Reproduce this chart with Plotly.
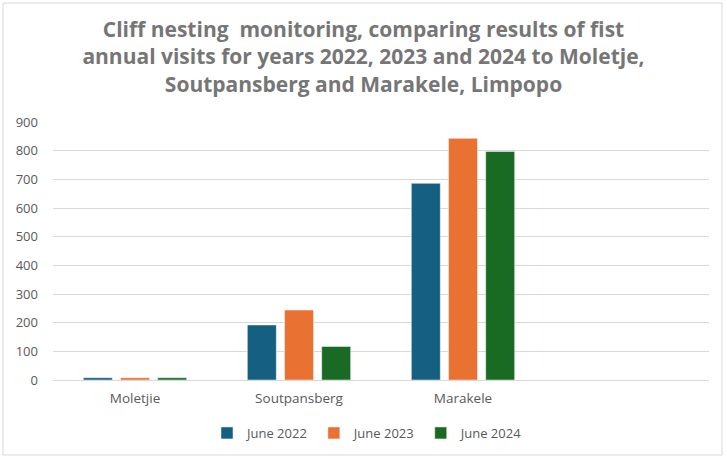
import plotly.graph_objects as go

categories = ["Moletjie", "Soutpansberg", "Marakele"]
series_names = ["June 2022", "June 2023", "June 2024"]
june_2022 = [8, 192, 686]
june_2023 = [8, 244, 843]
june_2024 = [8, 117, 797]
colors = ["#156082", "#E97132", "#196B24"]
y_ticks = [0, 100, 200, 300, 400, 500, 600, 700, 800, 900]

W, H = 727, 458
L, R, T, B = 53, 18, 122, 78
pw, ph = W - L - R, H - T - B

def px_x(x):
    return (x - L) / pw

def px_y(y):
    return (H - B - y) / ph

fig = go.Figure()
for name, vals, col in zip(series_names, [june_2022, june_2023, june_2024], colors):
    fig.add_trace(go.Bar(
        name=name, x=categories, y=vals,
        marker=dict(color=col, line=dict(color="rgba(255,255,255,0.6)", width=0.8)),
    ))

fig.update_layout(
    width=W, height=H,
    margin=dict(l=L, r=R, t=T, b=B, autoexpand=False),
    paper_bgcolor="white", plot_bgcolor="white",
    barmode="group", bargap=0.32, bargroupgap=0.22,
    font=dict(family="Open Sans, Liberation Sans, sans-serif", color="#595959", size=13),
    title=dict(
        text="Cliff nesting  monitoring, comparing results of fist<br>annual visits for years 2022, 2023 and 2024 to Moletje,<br>Soutpansberg and Marakele, Limpopo",
        x=0.5, xref="container", xanchor="center",
        y=1 - 37 / H, yref="container", yanchor="top",
        font=dict(family="Open Sans, sans-serif", size=21, color="#767676", weight="bold"),
    ),
    xaxis=dict(
        type="category", range=[-0.5, 3.5], showgrid=False, showline=False,
        ticks="", ticklabelstandoff=8, tickfont=dict(size=13.5, color="#595959"), fixedrange=True,
    ),
    yaxis=dict(
        range=[0, 900], tickvals=y_ticks, showgrid=True, gridcolor="#d9d9d9", gridwidth=1,
        zeroline=True, zerolinecolor="#d9d9d9", zerolinewidth=1, showline=False,
        ticks="", ticklabelstandoff=14, tickfont=dict(size=13, color="#595959"), fixedrange=True,
    ),
    legend=dict(
        orientation="h", x=px_x(368), xanchor="center", y=px_y(433), yanchor="middle",
        font=dict(size=13, color="#595959"), itemwidth=30, traceorder="normal",
    ),
    shapes=[dict(
        type="rect", xref="paper", yref="paper",
        x0=px_x(3), x1=px_x(722), y0=px_y(455), y1=px_y(3),
        line=dict(color="#d9d9d9", width=1), fillcolor="rgba(0,0,0,0)", layer="below",
    )],
)

fig.write_html("out.html", config={"displayModeBar": False},
               post_script="document.body.style.margin='0px';")
